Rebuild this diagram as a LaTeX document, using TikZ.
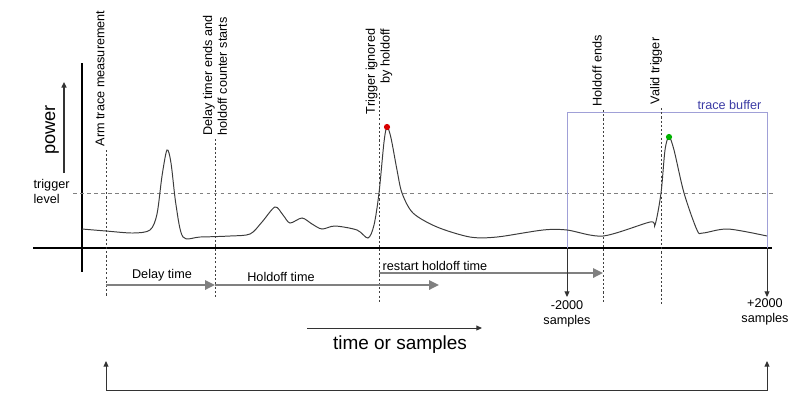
\documentclass[tikz,border=0pt]{standalone}
\usepackage{fontspec}
\setmainfont{Liberation Sans}
\usetikzlibrary{arrows.meta}

\definecolor{curvegray}{RGB}{60,60,60}
\definecolor{spangray}{RGB}{128,128,128}
\definecolor{bufline}{RGB}{160,160,215}
\definecolor{buftext}{RGB}{60,60,165}

\tikzset{
  evline/.style={black!75, line width=0.6pt, dash pattern=on 1.5pt off 1.5pt},
  spanarrow/.style={spangray, line width=1.6pt, -{Triangle[length=7pt,width=6.5pt]}},
  smallarrow/.style={black!80, line width=0.7pt, -{Triangle[length=4pt,width=3.5pt]}},
  evtext/.style={rotate=90, font=\fontsize{9}{10.5}\selectfont, inner sep=1pt},
  lbl/.style={font=\fontsize{9}{10.5}\selectfont, inner sep=1pt},
}

\begin{document}
\begin{tikzpicture}[x=0.025cm, y=-0.025cm]
  \useasboundingbox (0,0) rectangle (806,397);

  % axes
  \draw[line width=1.3pt] (33,248) -- (772,248);
  \draw[line width=1.3pt] (82,63) -- (82,272);
  \draw[smallarrow, line width=1pt] (64,173) -- (64,82);
  \node[rotate=90, font=\fontsize{13}{15}\selectfont, inner sep=0pt] (powerlbl) at (52,130) {power};

  % trigger level
  \draw[gray, line width=0.5pt, dash pattern=on 2.5pt off 2.5pt] (73,193) -- (773,193);
  \node[lbl, anchor=north west, align=left] (triglbl) at (32,178) {trigger\\level};

  % trace buffer
  \coordinate (bufL) at (567,248);
  \coordinate (bufR) at (767,248);
  \draw[bufline, line width=0.7pt] (bufL) -- (567,112) -- (767,112) -- (bufR);
  \node[lbl, text=buftext, anchor=south east] (buflbl) at (763,111) {trace buffer};

  % events
  \coordinate (arm) at (106,297);
  \coordinate (delay) at (215,297);
  \coordinate (ignored) at (379,302);
  \coordinate (hoend) at (603,302);
  \coordinate (valid) at (661,306);
  \draw[evline] (106,150) -- (arm);
  \draw[evline] (215,139) -- (delay);
  \draw[evline] (379,93) -- (ignored);
  \draw[evline] (603,110) -- (hoend);
  \draw[evline] (661,108) -- (valid);
  \node[evtext, anchor=west] (armlbl) at (100,148) {Arm trace measurement};
  \node[evtext, anchor=west, align=left] (delaylbl) at (215,137) {Delay timer ends and\\holdoff counter starts};
  \node[evtext, anchor=east, align=right] (ignlbl) at (379,27) {Trigger ignored\\by holdoff};
  \node[evtext, anchor=west] (hoendlbl) at (597,108) {Holdoff ends};
  \node[evtext, anchor=west] (validlbl) at (656,106) {Valid trigger};

  % trace
  \draw[curvegray, line width=0.7pt] plot[smooth, tension=0.5] coordinates {
    (82,229) (106,231) (133,233) (150,230) (157,214) (162,176) (167,150)
    (171,163) (176,205) (183,237) (200,237) (230,236) (250,234) (262,222)
    (275,207) (283,215) (290,223) (302,218) (312,224) (322,229) (335,226)
    (357,230) (368,238) (374,225) (379,193) (384,142) (387,127) (391,138)
    (397,170) (402,193) (413,213) (437,227) (470,237) (497,237) (543,230)
    (567,230) (603,236) (650,222) (655,225) (661,193) (665,150) (669,137)
    (674,150) (684,193) (697,230) (703,233) (728,229) (767,236)};
  \fill[red!85!black] (387,127) circle (2.2pt);
  \fill[green!70!black] (669,137) circle (2.2pt);

  % time spans
  \coordinate (dstart) at (106,285);
  \coordinate (dend) at (215,285);
  \coordinate (hend) at (439,285);
  \coordinate (rstart) at (379,273);
  \coordinate (rend) at (603,273);
  \draw[spanarrow] (dstart) -- (dend);
  \draw[spanarrow] (dend) -- (hend);
  \draw[spanarrow] (rstart) -- (rend);
  \node[lbl, anchor=south] (delaytime) at (162,283) {Delay time};
  \node[lbl, anchor=south] (holdtime) at (281,283) {Holdoff time};
  \node[lbl, anchor=south west] (resttime) at (381,272) {restart holdoff time};

  % buffer limits
  \coordinate (minus) at (567,297);
  \coordinate (plus) at (767,297);
  \draw[smallarrow] (bufL) -- (minus);
  \draw[smallarrow] (bufR) -- (plus);
  \node[lbl, anchor=north, align=center] (minuslbl) at (567,299) {-2000\\samples};
  \node[lbl, anchor=north, align=center] (pluslbl) at (765,297) {+2000\\samples};

  % time axis label
  \draw[smallarrow] (307,328) -- (482,328);
  \node[font=\fontsize{13.5}{16}\selectfont, inner sep=0pt] (timelbl) at (400,345) {time or samples};

  % loop back
  \draw[smallarrow, {Triangle[length=4pt,width=3.5pt]}-{Triangle[length=4pt,width=3.5pt]}] (106,361) -- (106,390) -- (767,390) -- (767,361);
\end{tikzpicture}
\end{document}
